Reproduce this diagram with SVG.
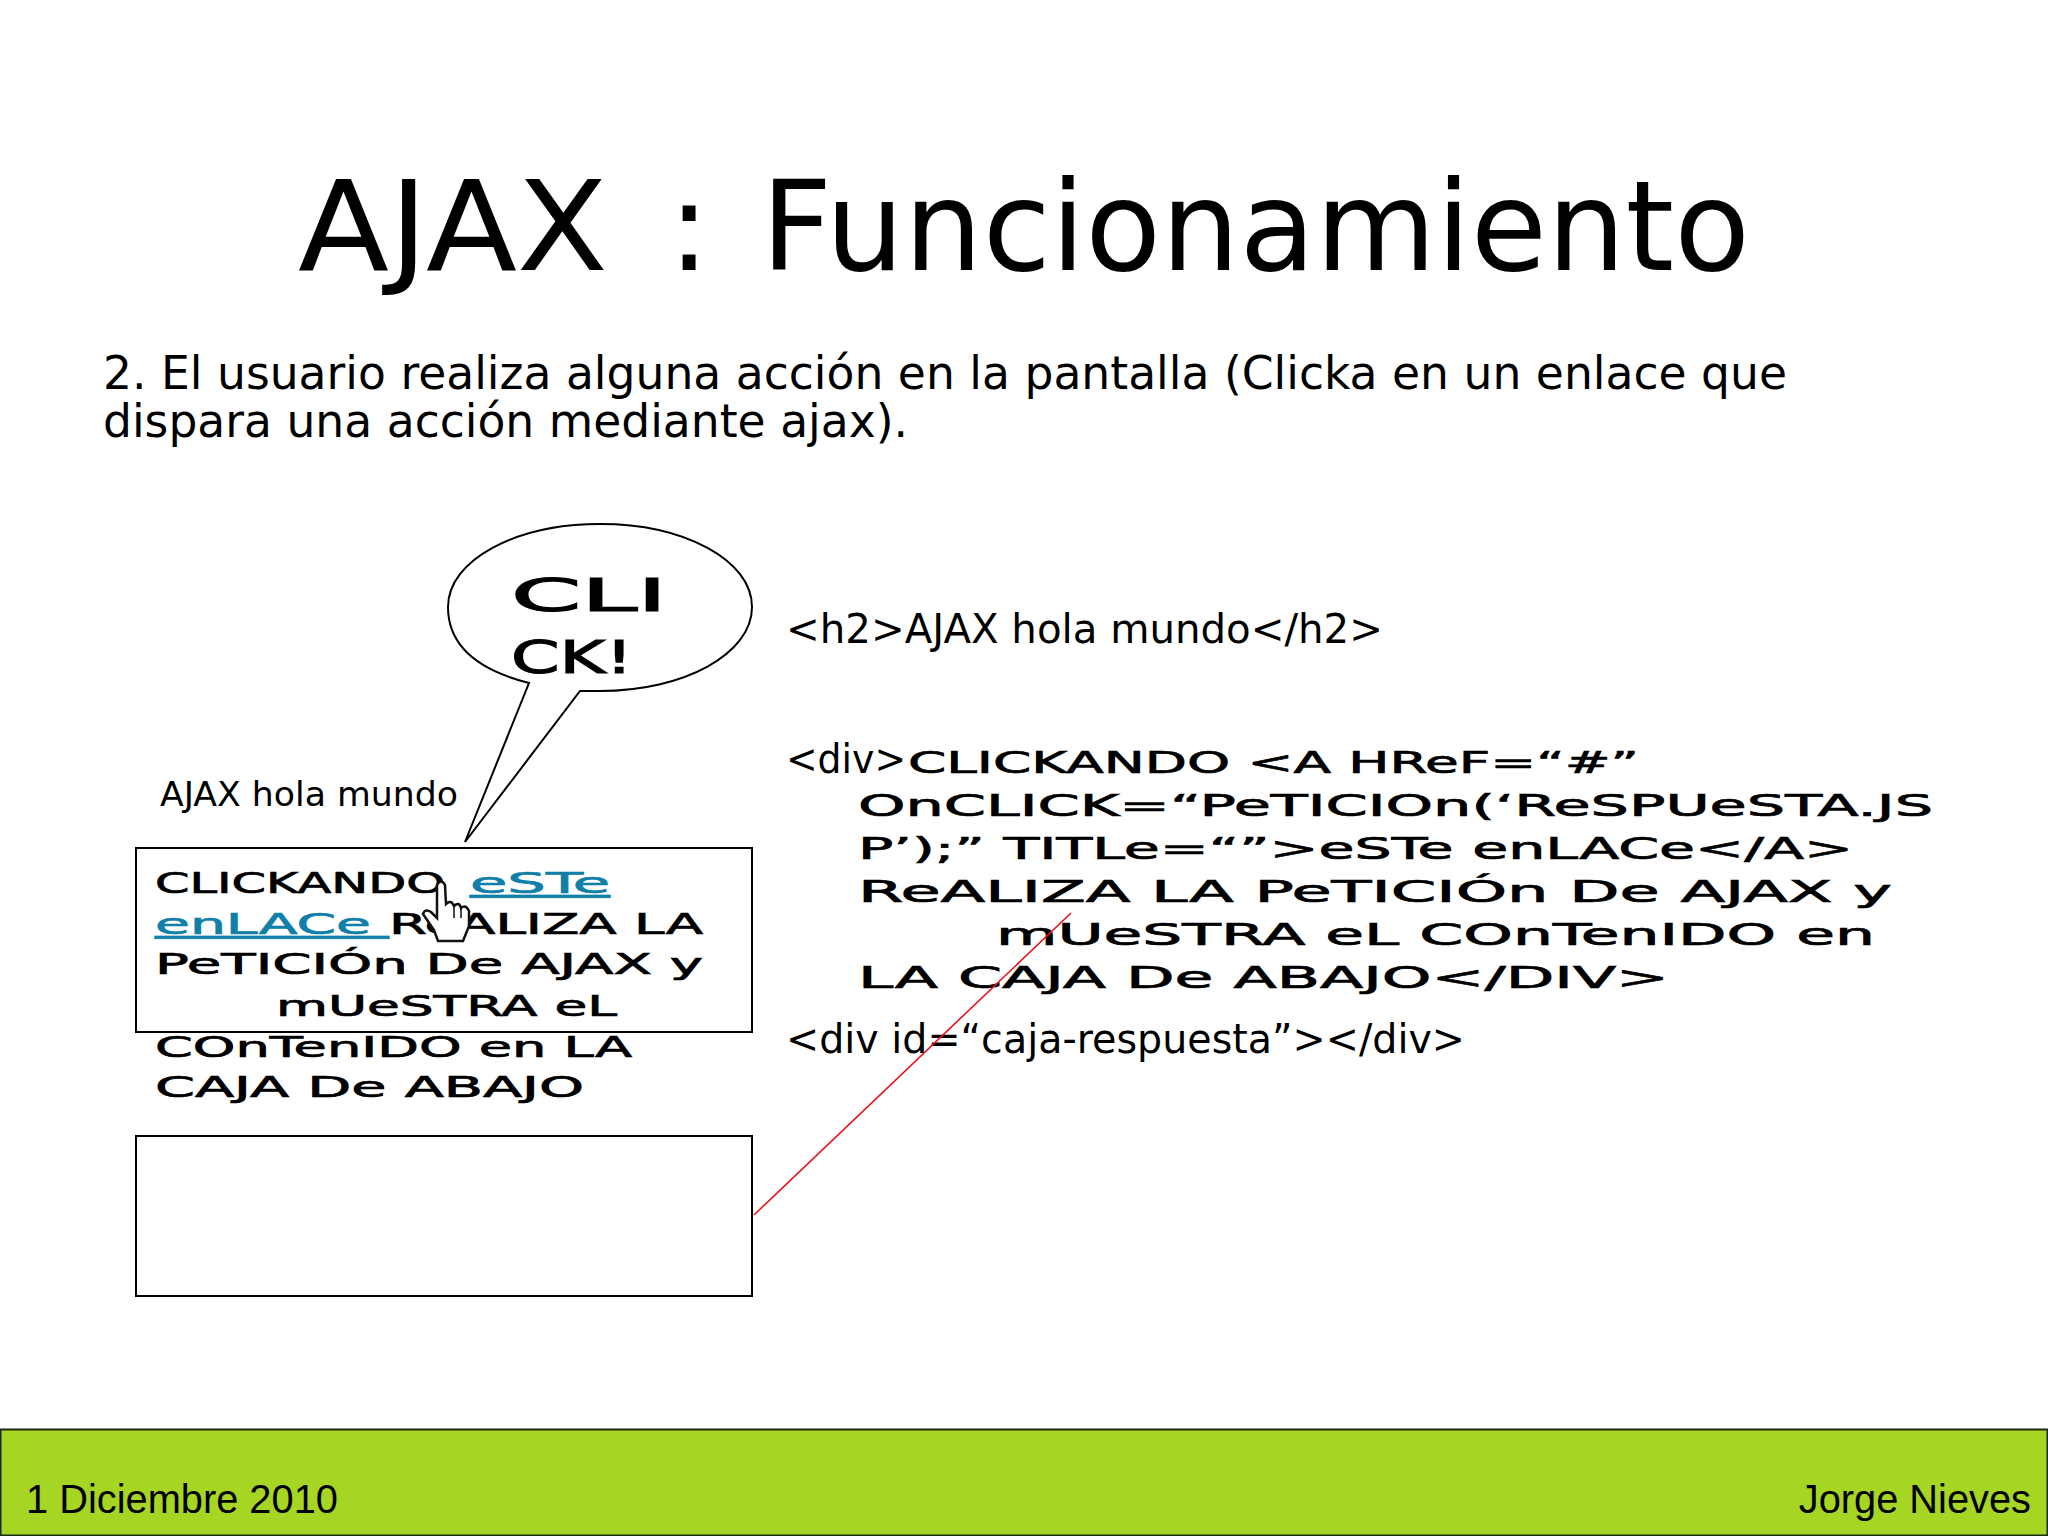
<svg xmlns="http://www.w3.org/2000/svg" width="2048" height="1536" viewBox="0 0 2048 1536">
<defs>
<style>
.s{font-family:"DejaVu Sans",Verdana,sans-serif;fill:#000}
.f{font-family:"Liberation Sans",Arial,sans-serif;font-size:39.8px;fill:#000}
.t{font-family:"DejaVu Sans",sans-serif;font-size:30px;fill:#000;stroke:#000;stroke-width:.7px}
.b{font-size:28px}
.big{font-size:44px;stroke-width:1.2px}
.box{fill:none;stroke:#000;stroke-width:2}
.link{fill:#1080a8;stroke:#1080a8;text-decoration:underline}
</style>
</defs>
<rect width="2048" height="1536" fill="#fff"/>
<g id="title"><text class="s" y="270" font-size="125"><tspan x="298" textLength="310" lengthAdjust="spacingAndGlyphs">AJAX</tspan><tspan x="668">:</tspan><tspan x="761" textLength="989" lengthAdjust="spacingAndGlyphs">Funcionamiento</tspan></text></g>
<g id="intro">
<text class="s" x="103" y="389" font-size="46" textLength="1684" lengthAdjust="spacingAndGlyphs">2. El usuario realiza alguna acción en la pantalla (Clicka en un enlace que</text>
<text class="s" x="103" y="437" font-size="46" textLength="805" lengthAdjust="spacingAndGlyphs">dispara una acción mediante ajax).</text>
</g>
<g id="bubble">
<path d="M529 683 C470 668 448 640 448 607 C448 560 516 524 600 524 C684 524 752 560 752 607 C752 654 684 691 600 691 L580 691 L465 842 Z" fill="#fff" stroke="#000" stroke-width="2"/>
<text class="t big" x="511" y="611" textLength="156" lengthAdjust="spacingAndGlyphs">CLI</text>
<text class="t big" x="511" y="673" textLength="122" lengthAdjust="spacingAndGlyphs">CK!</text>
</g>
<g id="heading-preview"><text class="s" x="160" y="806" font-size="34" textLength="298" lengthAdjust="spacingAndGlyphs">AJAX hola mundo</text></g>
<g id="content-box">
<rect class="box" x="136" y="848" width="616" height="184"/>
<text class="t b" x="155" y="893" textLength="290" lengthAdjust="spacingAndGlyphs">CLICKANDO</text>
<text class="t b link" x="470" y="893" textLength="140" lengthAdjust="spacingAndGlyphs">eSTe</text>
<text class="t b link" x="155" y="934" textLength="234" lengthAdjust="spacingAndGlyphs">enLACe&#160;</text>
<text class="t b" x="389" y="934" textLength="314" lengthAdjust="spacingAndGlyphs">ReALIZA LA</text>
<text class="t b" x="155" y="974" textLength="548" lengthAdjust="spacingAndGlyphs">PeTICIÓn De AJAX y</text>
<text class="t b" x="276" y="1016" textLength="341" lengthAdjust="spacingAndGlyphs">mUeSTRA eL</text>
<text class="t b" x="155" y="1057" textLength="477" lengthAdjust="spacingAndGlyphs">COnTenIDO en LA</text>
<text class="t b" x="155" y="1097" textLength="429" lengthAdjust="spacingAndGlyphs">CAJA De ABAJO</text>
</g>
<g id="cursor">
<path d="M437 885 Q441 878 445 885 L446 904 Q451 899 454 906 Q459 901 461 908 Q466 904 469 911 L469 926 L463 941 L438 941 L434 930 L423 914 Q425 908 431 912 L437 918 Z" fill="#fff" stroke="#111" stroke-width="2.5"/>
<path d="M454 906 L454 918 M461 908 L461 918" fill="none" stroke="#111" stroke-width="1.5"/>
</g>
<g id="response-box"><rect class="box" x="136" y="1136" width="616" height="160"/></g>
<g id="code">
<text class="s" x="786" y="643" font-size="40" textLength="597" lengthAdjust="spacingAndGlyphs">&lt;h2&gt;AJAX hola mundo&lt;/h2&gt;</text>
<text class="s" x="786" y="773" font-size="40" textLength="120" lengthAdjust="spacingAndGlyphs">&lt;div&gt;</text>
<text class="t" x="908" y="773" textLength="731" lengthAdjust="spacingAndGlyphs">CLICKANDO &lt;A HReF=“#”</text>
<text class="t" x="858" y="816" textLength="1075" lengthAdjust="spacingAndGlyphs">OnCLICK=“PeTICIOn(‘ReSPUeSTA.JS</text>
<text class="t" x="858" y="859" textLength="995" lengthAdjust="spacingAndGlyphs">P’);” TITLe=“”&gt;eSTe enLACe&lt;/A&gt;</text>
<text class="t" x="858" y="902" textLength="1034" lengthAdjust="spacingAndGlyphs">ReALIZA LA PeTICIÓn De AJAX y</text>
<text class="t" x="996" y="945" textLength="879" lengthAdjust="spacingAndGlyphs">mUeSTRA eL COnTenIDO en</text>
<text class="t" x="858" y="988" textLength="811" lengthAdjust="spacingAndGlyphs">LA CAJA De ABAJO&lt;/DIV&gt;</text>
<text class="s" x="786" y="1053" font-size="40" textLength="679" lengthAdjust="spacingAndGlyphs">&lt;div id=“caja-respuesta”&gt;&lt;/div&gt;</text>
</g>
<g id="connectors"><line x1="754" y1="1215" x2="1071" y2="913" stroke="#e8141c" stroke-width="1.6"/></g>
<g id="footer">
<rect x="0.5" y="1429.5" width="2047" height="106" fill="#a6d523" stroke="#1a2a10" stroke-width="2"/>
<text class="f" x="26" y="1513">1 Diciembre 2010</text>
<text class="f" x="2031" y="1513" text-anchor="end">Jorge Nieves</text>
</g>
</svg>
